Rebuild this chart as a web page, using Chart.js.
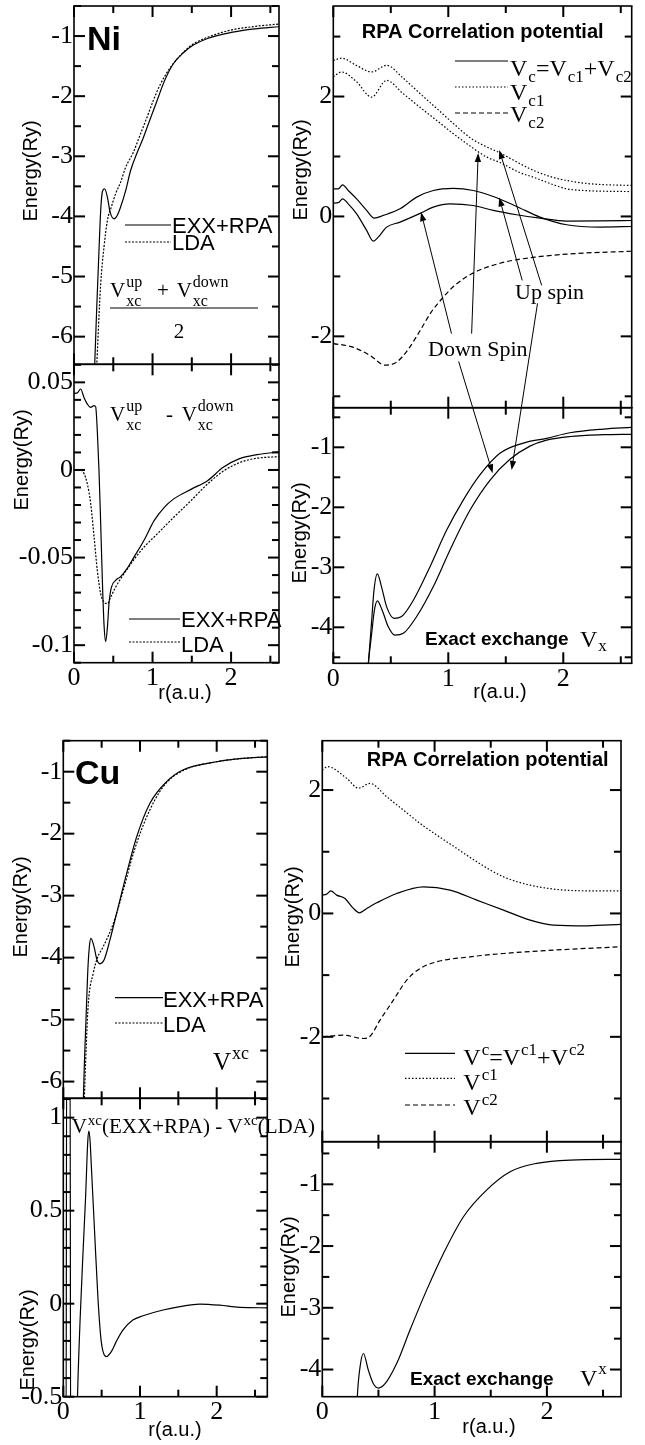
<!DOCTYPE html>
<html>
<head>
<meta charset="utf-8">
<script src="https://cdn.jsdelivr.net/npm/chart.js@4.4.0/dist/chart.umd.min.js"></script>
<style>
  body { margin: 0; background: #fff; width: 645px; height: 1445px; position: relative; overflow: hidden; }
  canvas { position: absolute; }
</style>
</head>
<body>
<canvas id="niLeft"></canvas>
<canvas id="niRight"></canvas>
<canvas id="cuLeft"></canvas>
<canvas id="cuRight"></canvas>
<script>
// ---------- Ni : (Vxc_up + Vxc_down)/2 ----------
const niXcR_exx = [0.26, 0.29, 0.318, 0.34, 0.361, 0.39, 0.425, 0.46, 0.51, 0.552, 0.594, 0.658, 0.72, 0.807, 0.88, 0.95, 1.05, 1.15, 1.265, 1.4, 1.52, 1.7, 2.0, 2.3, 2.61];
const niXc_exx  = [-6.6, -5.5, -4.57, -3.9, -3.59, -3.54, -3.68, -3.93, -4.04, -3.98, -3.84, -3.57, -3.24, -2.93, -2.7, -2.45, -2.1, -1.75, -1.46, -1.27, -1.15, -1.04, -0.94, -0.88, -0.845];
const niXcR_lda = [0.285, 0.34, 0.382, 0.425, 0.476, 0.53, 0.594, 0.658, 0.75, 0.84, 0.93, 1.01, 1.1, 1.24, 1.4, 1.52, 1.7, 2.0, 2.3, 2.61];
const niXc_lda  = [-6.6, -5.12, -4.51, -4.07, -3.84, -3.62, -3.43, -3.18, -2.95, -2.65, -2.35, -2.07, -1.8, -1.5, -1.26, -1.13, -1.02, -0.9, -0.84, -0.8];

// ---------- Ni : Vxc_up - Vxc_down ----------
const niDiffR_exx = [0, 0.042, 0.085, 0.127, 0.17, 0.212, 0.255, 0.276, 0.297, 0.318, 0.34, 0.361, 0.382, 0.403, 0.425, 0.446, 0.476, 0.53, 0.59, 0.68, 0.76, 0.89, 1.02, 1.15, 1.27, 1.5, 1.7, 1.9, 2.1, 2.33, 2.61];
const niDiff_exx  = [0.0437, 0.044, 0.0462, 0.0414, 0.0376, 0.0357, 0.0367, 0.036, 0.022, 0.0, -0.031, -0.063, -0.088, -0.098, -0.09, -0.076, -0.067, -0.063, -0.061, -0.056, -0.05, -0.0403, -0.0289, -0.0213, -0.0165, -0.0108, -0.0061, 0.0015, 0.0063, 0.0087, 0.0103];
const niDiffR_lda = [0, 0.085, 0.127, 0.17, 0.212, 0.255, 0.297, 0.34, 0.382, 0.425, 0.467, 0.53, 0.594, 0.68, 0.786, 0.89, 1.06, 1.27, 1.49, 1.7, 1.91, 2.12, 2.33, 2.61];
const niDiff_lda  = [0.0, 0.0, -0.002, -0.008, -0.019, -0.038, -0.0574, -0.0707, -0.0754, -0.0763, -0.0726, -0.0669, -0.0621, -0.0564, -0.0498, -0.0441, -0.0365, -0.027, -0.0175, -0.008, -0.0004, 0.0044, 0.0067, 0.0076];

// ---------- Ni : RPA correlation (up / down spin) ----------
const niVcR_up   = [0, 0.043, 0.081, 0.13, 0.203, 0.29, 0.357, 0.435, 0.58, 0.725, 0.87, 1.043, 1.217, 1.391, 1.594, 1.797, 2.029, 2.319, 2.61];
const niVc_up    = [0.461, 0.46, 0.528, 0.433, 0.294, 0.1, -0.028, 0.017, 0.128, 0.322, 0.433, 0.467, 0.433, 0.333, 0.167, -0.011, -0.139, -0.178, -0.167];
const niVcR_down = [0, 0.043, 0.081, 0.13, 0.203, 0.29, 0.348, 0.391, 0.464, 0.58, 0.76, 0.87, 1.014, 1.217, 1.391, 1.594, 1.797, 2.029, 2.319, 2.61];
const niVc_down  = [0.222, 0.23, 0.294, 0.211, 0.044, -0.233, -0.411, -0.344, -0.178, -0.094, 0.056, 0.156, 0.211, 0.183, 0.1, 0.028, -0.028, -0.078, -0.075, -0.067];
const niVc1R     = [0, 0.072, 0.2, 0.333, 0.464, 0.6, 0.754, 0.9, 1.044, 1.2, 1.334, 1.449, 1.623, 1.739, 1.913, 2.03, 2.203, 2.32, 2.594];
const niVc1_up   = [2.6, 2.64, 2.52, 2.41, 2.52, 2.32, 2.05, 1.8, 1.55, 1.3, 1.16, 1.06, 0.88, 0.77, 0.65, 0.6, 0.55, 0.533, 0.517];
const niVc1_down = [2.33, 2.41, 2.25, 1.99, 2.27, 2.06, 1.82, 1.6, 1.38, 1.16, 0.99, 0.9, 0.73, 0.656, 0.53, 0.461, 0.43, 0.422, 0.415];
const niVc2R     = [0, 0.17, 0.32, 0.45, 0.55, 0.65, 0.75, 0.85, 0.95, 1.05, 1.2, 1.45, 1.75, 2.1, 2.6];
const niVc2      = [-2.12, -2.18, -2.32, -2.48, -2.43, -2.22, -1.92, -1.6, -1.36, -1.16, -0.96, -0.78, -0.68, -0.62, -0.58];

// ---------- Ni : exact exchange (two spins) ----------
const niVxR_a = [0.28, 0.305, 0.334, 0.354, 0.383, 0.42, 0.464, 0.528, 0.594, 0.696, 0.841, 0.986, 1.13, 1.275, 1.449, 1.652, 1.855, 2.058, 2.348, 2.594];
const niVx_a  = [-5.2, -4.6, -3.88, -3.38, -3.11, -3.33, -3.66, -3.85, -3.82, -3.55, -2.99, -2.38, -1.88, -1.46, -1.1, -0.93, -0.85, -0.757, -0.696, -0.668];
const niVxR_b = [0.28, 0.305, 0.334, 0.357, 0.383, 0.426, 0.478, 0.536, 0.609, 0.725, 0.87, 1.015, 1.188, 1.362, 1.536, 1.71, 1.855, 2.058, 2.348, 2.594];
const niVx_b  = [-5.2, -4.6, -4.1, -3.72, -3.56, -3.72, -3.99, -4.13, -4.1, -3.82, -3.32, -2.71, -2.05, -1.55, -1.2, -0.98, -0.88, -0.82, -0.79, -0.783];

// ---------- Cu : Vxc ----------
const cuXcR_exx = [0.255, 0.275, 0.296, 0.318, 0.34, 0.361, 0.4, 0.44, 0.478, 0.531, 0.609, 0.696, 0.826, 0.957, 1.13, 1.348, 1.565, 2.0, 2.3, 2.66];
const cuXc_exx  = [-6.6, -5.7, -5.0, -4.25, -3.82, -3.69, -3.82, -4.04, -4.1, -4.04, -3.71, -3.28, -2.64, -2.05, -1.51, -1.16, -0.97, -0.84, -0.79, -0.76];
const cuXcR_lda = [0.265, 0.3, 0.326, 0.391, 0.443, 0.522, 0.652, 0.783, 0.913, 1.087, 1.304, 1.565, 2.0, 2.3, 2.66];
const cuXc_lda  = [-6.6, -5.4, -4.74, -4.25, -4.01, -3.82, -3.45, -2.91, -2.32, -1.73, -1.24, -0.98, -0.84, -0.79, -0.76];

// ---------- Cu : Vxc(EXX+RPA) - Vxc(LDA) ----------
const cuDiffR = [0, 0.036, 0.044, 0.088, 0.096, 0.17, 0.185, 0.25, 0.29, 0.32, 0.335, 0.35, 0.365, 0.408, 0.452, 0.495, 0.56, 0.626, 0.69, 0.777, 0.907, 1.04, 1.3, 1.52, 1.78, 2.04, 2.3, 2.66];
const cuDiff  = [-0.8, -0.8, 1.4, 1.4, -0.8, -0.8, -0.5, 0.21, 0.566, 0.88, 0.928, 0.87, 0.745, 0.387, 0.028, -0.204, -0.285, -0.258, -0.204, -0.142, -0.088, -0.065, -0.034, -0.016, -0.002, -0.008, -0.02, -0.022];

// ---------- Cu : RPA correlation ----------
const cuVcR  = [0, 0.039, 0.075, 0.128, 0.202, 0.277, 0.33, 0.396, 0.485, 0.663, 0.9, 1.138, 1.376, 1.614, 1.851, 2.059, 2.36, 2.66];
const cuVc   = [0.297, 0.313, 0.366, 0.297, 0.243, 0.081, 0.01, 0.081, 0.172, 0.324, 0.431, 0.378, 0.216, 0.054, -0.108, -0.189, -0.2, -0.178];
const cuVc1R = [0, 0.045, 0.217, 0.321, 0.425, 0.574, 0.723, 0.871, 1.02, 1.198, 1.376, 1.614, 1.851, 2.089, 2.36, 2.66];
const cuVc1  = [2.32, 2.38, 2.19, 2.03, 2.107, 1.89, 1.674, 1.458, 1.27, 1.053, 0.837, 0.593, 0.459, 0.389, 0.367, 0.367];
const cuVc2R = [0, 0.187, 0.366, 0.425, 0.514, 0.633, 0.752, 0.871, 1.02, 1.317, 1.614, 2.059, 2.66];
const cuVc2  = [-2.0, -1.973, -2.027, -1.99, -1.73, -1.405, -1.08, -0.892, -0.784, -0.703, -0.649, -0.595, -0.54];

// ---------- Cu : exact exchange ----------
const cuVxR = [0.305, 0.312, 0.336, 0.366, 0.41, 0.455, 0.5, 0.559, 0.663, 0.781, 0.93, 1.079, 1.257, 1.465, 1.673, 1.91, 2.207, 2.66];
const cuVx  = [-4.8, -4.44, -3.96, -3.74, -4.01, -4.23, -4.3, -4.23, -3.9, -3.36, -2.71, -2.12, -1.525, -1.09, -0.796, -0.66, -0.607, -0.596];

// major tick labels on the axes
const xTickStep = 1;

const SERIF = 'Liberation Serif';
const SANS = 'Liberation Sans';
const DOT = [2, 1.5];
const FINE = [1.5, 2];
const DASH = [5, 3];

function series(r, v, yAxisID, dash) {
  return {
    data: r.map((x, i) => ({ x, y: v[i] })),
    yAxisID,
    borderColor: '#000',
    borderWidth: 1.2,
    borderDash: dash || [],
    pointRadius: 0,
    cubicInterpolationMode: 'monotone',
    fill: false
  };
}

function fmt(v) { return String(Math.round(v * 1000) / 1000); }

// draws a string with sub/superscripts; pieces are strings or {sub, sup}
function rich(ctx, x, y, parts, o) {
  const size = o.size, small = o.small || Math.round(size * 0.72);
  const subDy = o.subDy != null ? o.subDy : size * 0.3;
  const supDy = o.supDy != null ? o.supDy : -size * 0.42;
  let cx = x;
  ctx.textAlign = 'left';
  ctx.textBaseline = 'alphabetic';
  for (const p of parts) {
    if (typeof p === 'string') {
      ctx.font = size + 'px "' + SERIF + '"';
      ctx.fillText(p, cx, y);
      cx += ctx.measureText(p).width;
    } else {
      ctx.font = small + 'px "' + SERIF + '"';
      let w = 0;
      if (p.sub) { ctx.fillText(p.sub, cx + 1, y + subDy); w = Math.max(w, ctx.measureText(p.sub).width); }
      if (p.sup) { ctx.fillText(p.sup, cx + 1, y + supDy); w = Math.max(w, ctx.measureText(p.sup).width); }
      cx += w + 1;
    }
  }
}

function segment(ctx, x1, y1, x2, y2, dash) {
  ctx.save();
  ctx.setLineDash(dash || []);
  ctx.beginPath();
  ctx.moveTo(x1, y1);
  ctx.lineTo(x2, y2);
  ctx.stroke();
  ctx.restore();
}

// major values every `step`, minor every `minor`, inside [min, max]
function tickValues(min, max, step, minor) {
  const out = [];
  const k0 = Math.ceil(min / minor - 1e-6), k1 = Math.floor(max / minor + 1e-6);
  for (let k = k0; k <= k1; k++) {
    const v = k * minor;
    const q = v / step;
    out.push({ v, major: Math.abs(q - Math.round(q)) < 1e-6 });
  }
  return out;
}

// frame with inward tick marks on all four sides of every panel
const framePlugin = {
  id: 'frame',
  afterDraw(chart, args, opts) {
    const ctx = chart.ctx, ca = chart.chartArea, xs = chart.scales.x;
    const th = 1.6, tk = 2;
    ctx.save();
    ctx.fillStyle = '#000';
    const xt = tickValues(xs.min, xs.max, xTickStep, opts.minor.x);
    for (const id of ['yTop', 'yBot']) {
      const ys = chart.scales[id];
      const top = ys.top, bot = ys.bottom;
      ctx.fillRect(ca.left - th / 2, top - th / 2, ca.right - ca.left + th, th);
      ctx.fillRect(ca.left - th / 2, bot - th / 2, ca.right - ca.left + th, th);
      ctx.fillRect(ca.left - th / 2, top, th, bot - top);
      ctx.fillRect(ca.right - th / 2, top, th, bot - top);
      for (const t of tickValues(ys.min, ys.max, opts.step[id], opts.minor[id])) {
        const y = ys.getPixelForValue(t.v), len = t.major ? 11 : 7;
        ctx.fillRect(ca.left, y - tk / 2, len, tk);
        ctx.fillRect(ca.right - len, y - tk / 2, len, tk);
      }
      for (const t of xt) {
        const x = xs.getPixelForValue(t.v), len = t.major ? 11 : 7;
        ctx.fillRect(x - tk / 2, top, tk, len);
        ctx.fillRect(x - tk / 2, bot - len, tk, len);
      }
    }
    ctx.restore();
  }
};

// annotations: legend keys, labels, axis titles and arrows
function decorPlugin(spec) {
  return {
    id: 'decor',
    afterDraw(chart) {
      const ctx = chart.ctx, xs = chart.scales.x;
      ctx.save();
      ctx.translate(-spec.offset[0], -spec.offset[1]);
      ctx.fillStyle = '#000';
      ctx.strokeStyle = '#000';
      ctx.lineWidth = 1.2;
      for (const k of spec.keys || []) segment(ctx, k.x1, k.y, k.x2, k.y, k.dash);
      for (const l of spec.lines || []) segment(ctx, l.x1, l.y1, l.x2, l.y2);
      for (const t of spec.texts || []) {
        ctx.font = t.font;
        ctx.textAlign = t.align || 'left';
        ctx.textBaseline = 'alphabetic';
        ctx.fillText(t.t, t.x, t.y);
      }
      for (const r of spec.rich || []) rich(ctx, r.x, r.y, r.parts, r);
      for (const a of spec.titles || []) {
        ctx.save();
        ctx.font = '20px "' + SANS + '"';
        ctx.textAlign = 'center';
        ctx.textBaseline = 'middle';
        ctx.translate(a.x, a.y);
        if (a.rot) ctx.rotate(-Math.PI / 2);
        ctx.fillText(a.t, 0, 0);
        ctx.restore();
      }
      ctx.restore();

      ctx.save();
      ctx.fillStyle = '#000';
      ctx.strokeStyle = '#000';
      ctx.lineWidth = 1;
      for (const a of spec.arrows || []) {
        const x1 = xs.getPixelForValue(a.from[0]), y1 = chart.scales[a.from[2]].getPixelForValue(a.from[1]);
        const x2 = xs.getPixelForValue(a.to[0]), y2 = chart.scales[a.to[2]].getPixelForValue(a.to[1]);
        const ang = Math.atan2(y2 - y1, x2 - x1), L = 9, W = 3.2;
        const bx = x2 - L * Math.cos(ang), by = y2 - L * Math.sin(ang);
        segment(ctx, x1, y1, bx, by);
        ctx.beginPath();
        ctx.moveTo(x2, y2);
        ctx.lineTo(bx + W * Math.sin(ang), by - W * Math.cos(ang));
        ctx.lineTo(bx - W * Math.sin(ang), by + W * Math.cos(ang));
        ctx.closePath();
        ctx.fill();
      }
      ctx.restore();
    }
  };
}

function yAxis(min, max, step, weight, stackWeight, padL) {
  return {
    type: 'linear', position: 'left', stack: 'col', stackWeight, weight,
    min, max,
    grid: { display: false, drawTicks: false },
    border: { display: false },
    ticks: {
      stepSize: step, includeBounds: false, padding: 1, autoSkip: false,
      font: { family: SERIF, size: 26 }, color: '#000', callback: fmt
    },
    afterFit(s) { s.width = padL; s.paddingTop = 0; s.paddingBottom = 0; }
  };
}

// box: canvas on the page; area: plot frame on the page
function column(id, box, area, xMax, yTop, yBot, minor, datasets, spec) {
  const cv = document.getElementById(id);
  cv.width = box.w; cv.height = box.h;
  cv.style.left = box.x + 'px'; cv.style.top = box.y + 'px';
  const padL = area.left - box.x, padT = area.top - box.y;
  const padR = box.x + box.w - area.right, padB = box.y + box.h - area.bottom;
  const hTop = area.mid - area.top, hBot = area.bottom - area.mid;
  spec.offset = [box.x, box.y];
  return new Chart(cv, {
    type: 'line',
    data: { datasets },
    options: {
      responsive: false, animation: false, events: [],
      layout: { padding: { top: padT, right: padR, left: 0, bottom: 0 } },
      plugins: {
        legend: { display: false }, tooltip: { enabled: false },
        frame: { minor, step: { yTop: yTop[2], yBot: yBot[2] } }
      },
      scales: {
        x: {
          type: 'linear', position: 'bottom', min: 0, max: xMax,
          grid: { display: false, drawTicks: false },
          border: { display: false },
          ticks: {
            stepSize: xTickStep, includeBounds: false, maxRotation: 0, padding: 0, autoSkip: false,
            font: { family: SERIF, size: 26 }, color: '#000', callback: fmt
          },
          afterFit(s) { s.height = padB; s.paddingLeft = 0; s.paddingRight = 0; }
        },
        yTop: yAxis(yTop[0], yTop[1], yTop[2], 2, hTop, padL),
        yBot: yAxis(yBot[0], yBot[1], yBot[2], 1, hBot, padL)
      }
    },
    plugins: [framePlugin, decorPlugin(spec)]
  });
}

const sans = (s, b) => (b ? 'bold ' : '') + s + 'px "' + SANS + '"';
const serif = s => s + 'px "' + SERIF + '"';

// ---------------- Ni, left column ----------------
column('niLeft', { x: 0, y: 0, w: 330, h: 720 }, { left: 74, top: 6, mid: 364.3, bottom: 662.7, right: 279 }, 2.61,
  [-6.46, -0.5, 1], [-0.11, 0.0603, 0.05], { x: 0.5, yTop: 0.5, yBot: 0.01 },
  [
    series(niXcR_exx, niXc_exx, 'yTop'),
    series(niXcR_lda, niXc_lda, 'yTop', DOT),
    series(niDiffR_exx, niDiff_exx, 'yBot'),
    series(niDiffR_lda, niDiff_lda, 'yBot', DOT)
  ],
  {
    keys: [
      { x1: 125, x2: 171, y: 225 }, { x1: 125, x2: 171, y: 242, dash: DOT },
      { x1: 129, x2: 180, y: 619 }, { x1: 129, x2: 180, y: 642, dash: DOT }
    ],
    lines: [{ x1: 110, y1: 308, x2: 258, y2: 308 }],
    texts: [
      { t: 'Ni', x: 87, y: 50, font: sans(34, true) },
      { t: 'EXX+RPA', x: 172, y: 233, font: sans(22) },
      { t: 'LDA', x: 172, y: 250, font: sans(22) },
      { t: '2', x: 179, y: 338, font: serif(21), align: 'center' },
      { t: 'EXX+RPA', x: 181, y: 627, font: sans(22) },
      { t: 'LDA', x: 181, y: 652, font: sans(22) },
      { t: '-', x: 166, y: 421, font: serif(21) },
      { t: '+', x: 157, y: 297, font: serif(21) }
    ],
    rich: [
      { x: 110, y: 297, parts: ['V', { sub: 'xc', sup: 'up' }], size: 21, small: 16, subDy: 9, supDy: -10 },
      { x: 176.7, y: 297, parts: ['V', { sub: 'xc', sup: 'down' }], size: 21, small: 16, subDy: 9, supDy: -10 },
      { x: 110, y: 421, parts: ['V', { sub: 'xc', sup: 'up' }], size: 21, small: 16, subDy: 9, supDy: -10 },
      { x: 181.7, y: 421, parts: ['V', { sub: 'xc', sup: 'down' }], size: 21, small: 16, subDy: 9, supDy: -10 }
    ],
    titles: [
      { t: 'Energy(Ry)', x: 31, y: 171, rot: true },
      { t: 'Energy(Ry)', x: 22, y: 460, rot: true },
      { t: 'r(a.u.)', x: 185, y: 693 }
    ]
  });

// ---------------- Ni, right column ----------------
column('niRight', { x: 270, y: 0, w: 375, h: 720 }, { left: 333.3, top: 6, mid: 407.7, bottom: 663.3, right: 631.7 }, 2.595,
  [-3.19, 3.51, 2], [-4.6, -0.34, 1], { x: 0.5, yTop: 1, yBot: 0.5 },
  [
    series(niVcR_up, niVc_up, 'yTop'),
    series(niVcR_down, niVc_down, 'yTop'),
    series(niVc1R, niVc1_up, 'yTop', FINE),
    series(niVc1R, niVc1_down, 'yTop', FINE),
    series(niVc2R, niVc2, 'yTop', DASH),
    series(niVxR_a, niVx_a, 'yBot'),
    series(niVxR_b, niVx_b, 'yBot')
  ],
  {
    keys: [
      { x1: 455, x2: 508, y: 61 }, { x1: 455, x2: 508, y: 87, dash: FINE }, { x1: 455, x2: 508, y: 113, dash: DASH }
    ],
    texts: [
      { t: 'RPA Correlation potential', x: 361.7, y: 38, font: sans(20, true) },
      { t: 'Up spin', x: 515, y: 299, font: serif(22) },
      { t: 'Down Spin', x: 428, y: 356, font: serif(22) },
      { t: 'Exact exchange', x: 425, y: 645, font: sans(19, true) }
    ],
    rich: [
      { x: 510, y: 76, parts: ['V', { sub: 'c' }, '=V', { sub: 'c1' }, '+V', { sub: 'c2' }], size: 24, small: 17, subDy: 6 },
      { x: 510, y: 100, parts: ['V', { sub: 'c1' }], size: 24, small: 17, subDy: 6 },
      { x: 510, y: 122, parts: ['V', { sub: 'c2' }], size: 24, small: 17, subDy: 6 },
      { x: 580, y: 647, parts: ['V', { sub: 'x' }], size: 24, small: 17, subDy: 4 }
    ],
    arrows: [
      { from: [1.028, -1.955, 'yTop'], to: [0.763, 0.072, 'yTop'] },
      { from: [1.203, -1.955, 'yTop'], to: [1.26, 1.058, 'yTop'] },
      { from: [1.09, -2.417, 'yTop'], to: [1.386, -1.433, 'yBot'] },
      { from: [1.643, -1.067, 'yTop'], to: [1.443, 0.317, 'yTop'] },
      { from: [1.812, -1.15, 'yTop'], to: [1.443, 1.108, 'yTop'] },
      { from: [1.776, -1.45, 'yTop'], to: [1.551, -1.378, 'yBot'] }
    ],
    titles: [
      { t: 'Energy(Ry)', x: 301.7, y: 170, rot: true },
      { t: 'Energy(Ry)', x: 300, y: 533, rot: true },
      { t: 'r(a.u.)', x: 500, y: 692 }
    ]
  });

// ---------------- Cu, left column ----------------
column('cuLeft', { x: 0, y: 720, w: 330, h: 725 }, { left: 63.3, top: 740.7, mid: 1098.3, bottom: 1396.7, right: 267.3 }, 2.66,
  [-6.27, -0.5, 1], [-0.5, 1.104, 0.5], { x: 0.5, yTop: 0.5, yBot: 0.1 },
  [
    series(cuXcR_exx, cuXc_exx, 'yTop'),
    series(cuXcR_lda, cuXc_lda, 'yTop', DOT),
    series(cuDiffR, cuDiff, 'yBot')
  ],
  {
    keys: [
      { x1: 115, x2: 163, y: 997.7 }, { x1: 115, x2: 163, y: 1023, dash: DOT }
    ],
    texts: [
      { t: 'Cu', x: 75, y: 784, font: sans(34, true) },
      { t: 'EXX+RPA', x: 163, y: 1006.5, font: sans(22) },
      { t: 'LDA', x: 163, y: 1031.5, font: sans(22) }
    ],
    rich: [
      { x: 213, y: 1070, parts: ['V', { sup: 'xc' }], size: 25, small: 18, supDy: -11 },
      { x: 71.7, y: 1133, parts: ['V', { sup: 'xc' }, '(EXX+RPA) - V', { sup: 'xc' }, '(LDA)'], size: 21, small: 15, supDy: -8 }
    ],
    titles: [
      { t: 'Energy(Ry)', x: 21, y: 907, rot: true },
      { t: 'Energy(Ry)', x: 28, y: 1340, rot: true },
      { t: 'r(a.u.)', x: 175, y: 1430 }
    ]
  });

// ---------------- Cu, right column ----------------
column('cuRight', { x: 270, y: 720, w: 375, h: 725 }, { left: 322.3, top: 740.7, mid: 1141.7, bottom: 1396.7, right: 621 }, 2.66,
  [-3.7, 2.8, 2], [-4.44, -0.31, 1], { x: 0.5, yTop: 1, yBot: 0.5 },
  [
    series(cuVcR, cuVc, 'yTop'),
    series(cuVc1R, cuVc1, 'yTop', FINE),
    series(cuVc2R, cuVc2, 'yTop', DASH),
    series(cuVxR, cuVx, 'yBot')
  ],
  {
    keys: [
      { x1: 405, x2: 455, y: 1053.3 }, { x1: 405, x2: 455, y: 1078.3, dash: FINE }, { x1: 405, x2: 455, y: 1105, dash: DASH }
    ],
    texts: [
      { t: 'RPA Correlation potential', x: 366.7, y: 766, font: sans(20, true) },
      { t: 'Exact exchange', x: 410, y: 1385, font: sans(19, true) }
    ],
    rich: [
      { x: 463.3, y: 1065, parts: ['V', { sup: 'c' }, '=V', { sup: 'c1' }, '+V', { sup: 'c2' }], size: 24, small: 17, supDy: -10 },
      { x: 463.3, y: 1090, parts: ['V', { sup: 'c1' }], size: 24, small: 17, supDy: -10 },
      { x: 463.3, y: 1115, parts: ['V', { sup: 'c2' }], size: 24, small: 17, supDy: -10 },
      { x: 580, y: 1386, parts: ['V', { sup: 'x' }], size: 24, small: 17, supDy: -12 }
    ],
    titles: [
      { t: 'Energy(Ry)', x: 293, y: 917, rot: true },
      { t: 'Energy(Ry)', x: 289, y: 1267, rot: true },
      { t: 'r(a.u.)', x: 489, y: 1427 }
    ]
  });
</script>
</body>
</html>
